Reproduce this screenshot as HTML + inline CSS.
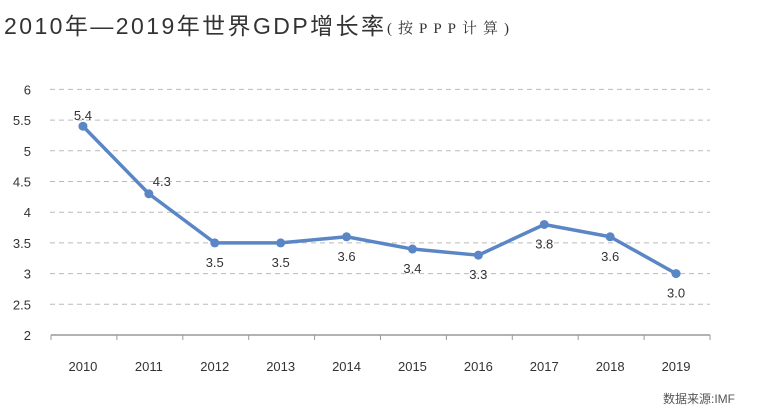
<!DOCTYPE html>
<html><head><meta charset="utf-8"><style>
body{margin:0;background:#fff;width:759px;height:412px;overflow:hidden;font-family:"Liberation Sans","Noto Sans CJK SC",sans-serif}
svg text{font-family:"Liberation Sans","Noto Sans CJK SC",sans-serif}
</style></head><body>
<svg width="759" height="412">
<text x="4" y="34" font-size="23" fill="#333" textLength="380" lengthAdjust="spacing">2010年—2019年世界GDP增长率</text>
<text x="387" y="33" font-size="15" fill="#333" textLength="122" lengthAdjust="spacing" style="font-family:'Liberation Serif','Noto Serif CJK SC',serif">(按PPP计算)</text>
<g id="grid"></g><g id="axis"></g><g id="series"></g>
<text x="735" y="403" font-size="12" fill="#555" text-anchor="end">数据来源:IMF</text>
</svg>
<script>
const years=["2010","2011","2012","2013","2014","2015","2016","2017","2018","2019"];
const values=[5.4,4.3,3.5,3.5,3.6,3.4,3.3,3.8,3.6,3.0];
const labels=["5.4","4.3","3.5","3.5","3.6","3.4","3.3","3.8","3.6","3.0"];
const yTicks=[2,2.5,3,3.5,4,4.5,5,5.5,6];
const NS="http://www.w3.org/2000/svg";
const x0=51,x1=710,step=(x1-x0)/years.length;
const X=i=>x0+step*(i+0.5)-1;
const Y=v=>335-(v-2)*61.4;
function mk(t,a,p){const e=document.createElementNS(NS,t);for(const k in a)e.setAttribute(k,a[k]);document.getElementById(p).appendChild(e);return e;}
yTicks.forEach(v=>{
 if(v>2){const l=mk('line',{x1:50,x2:710,y1:Y(v),y2:Y(v),stroke:'#bbb','stroke-width':1,'stroke-dasharray':'5,4'},'grid');
 
 }
 const t=mk('text',{x:31,y:Y(v)+5,'font-size':13,fill:'#333','text-anchor':'end'},'axis');t.textContent=String(v);
 
 
});
const ax=mk('line',{x1:x0,x2:x1,y1:Y(2),y2:Y(2),stroke:'#999','stroke-width':1.5},'axis');


for(let i=0;i<=years.length;i++){const tk=mk('line',{x1:x0+step*i,x2:x0+step*i,y1:Y(2),y2:Y(2)+5,stroke:'#999'},'axis');
 
 }
years.forEach((y,i)=>{const t=mk('text',{x:X(i),y:371,'font-size':13,fill:'#333','text-anchor':'middle'},'axis');t.textContent=y;
 
 });
const pl=mk('polyline',{points:values.map((v,i)=>X(i)+','+Y(v)).join(' '),fill:'none',stroke:'#5b86c5','stroke-width':3.5,'stroke-linejoin':'round'},'series');


values.forEach((v,i)=>{
 const c=mk('circle',{cx:X(i),cy:Y(v),r:4.5,fill:'#5b86c5'},'series');
 
 
 let lx=X(i),ly=Y(v)+24;
 if(i===0){ly=Y(v)-6;}
 if(i===1){lx=X(i)+13;ly=Y(v)-8;}
 const t=mk('text',{x:lx,y:ly,'font-size':13,fill:'#333','text-anchor':'middle'},'series');t.textContent=labels[i];
 
 
});
</script>
</body></html>
